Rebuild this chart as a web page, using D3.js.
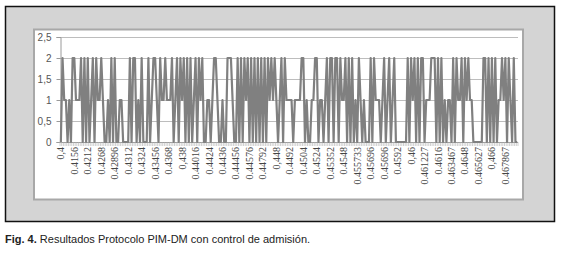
<!DOCTYPE html>
<html>
<head>
<meta charset="utf-8">
<script src="https://cdn.jsdelivr.net/npm/d3@7"></script>
<style>
  body { margin: 0; background: #fff; }
  svg { display: block; }
</style>
</head>
<body>
<div id="chart"></div>
<script>
// valores de la serie (8 categorias por cada etiqueta visible)
const values = [
  0, 2, 1, 1, 0, 1, 0, 2,   2, 1, 1, 1, 2, 0, 2, 0,
  2, 0, 1, 2, 0, 2, 1, 1,   2, 1, 0, 0, 1, 0, 2, 0,
  2, 0, 0, 1, 1, 0, 0, 0,   0, 2, 0, 2, 2, 0, 1, 0,
  2, 0, 0, 0, 2, 0, 1, 2,   2, 1, 0, 2, 1, 1, 2, 1,
  1, 1, 2, 0, 1, 2, 0, 2,   1, 2, 0, 2, 0, 2, 0, 1,
  2, 0, 2, 1, 2, 0, 0, 1,   1, 0, 1, 2, 2, 1, 0, 0,
  1, 0, 0, 2, 2, 2, 1, 0,   0, 2, 0, 2, 0, 2, 1, 2,
  0, 2, 0, 2, 0, 2, 0, 2,   0, 2, 0, 2, 1, 2, 1, 2,
  1, 0, 1, 2, 0, 2, 1, 1,   1, 1, 0, 1, 1, 1, 1, 2,
  2, 0, 1, 0, 0, 1, 1, 2,   2, 0, 1, 1, 0, 1, 2, 0,
  2, 2, 0, 2, 2, 0, 2, 1,   1, 2, 0, 2, 0, 2, 0, 1,
  0, 2, 1, 0, 1, 0, 0, 0,   2, 0, 2, 1, 1, 1, 0, 1,
  2, 0, 1, 2, 0, 1, 2, 0,   0, 0, 0, 0, 0, 0, 2, 0,
  2, 1, 2, 0, 2, 0, 2, 2,   0, 1, 1, 1, 2, 2, 2, 0,
  2, 0, 2, 0, 1, 0, 1, 1,   0, 2, 0, 2, 1, 1, 2, 0,
  2, 1, 2, 1, 1, 0, 0, 0,   0, 0, 0, 2, 2, 0, 2, 0,
  2, 0, 2, 0, 1, 1, 2, 1,   2, 0, 2, 1, 0, 2, 0, 0
];

// etiquetas visibles del eje x
const xLabels = [
  "0,4", "0.4156", "0.4212", "0.4268", "0.42896", "0.4312", "0.4324", "0.43456",
  "0.4368", "0,438", "0.44016", "0.4424", "0.4436", "0.44456", "0.44576", "0.44792",
  "0,448", "0.4492", "0.4504", "0.4524", "0.45352", "0.4548", "0.455733", "0.45696",
  "0.45696", "0.4592", "0,46", "0.461227", "0.4616", "0.463467", "0.4648", "0.465627",
  "0,466", "0.467867"
];
const labelEvery = 8;

const yTicks = [0, 0.5, 1, 1.5, 2, 2.5];

const caption = "Resultados Protocolo PIM-DM con control de admisión.";

const width = 565, height = 253;

const svg = d3.select("#chart")
  .append("svg")
  .attr("width", width)
  .attr("height", height);

// marco exterior gris
svg.append("rect")
  .attr("x", 5.5).attr("y", 6.5)
  .attr("width", 549).attr("height", 215)
  .attr("fill", "#d4d4d4")
  .attr("stroke", "#111")
  .attr("stroke-width", 1.5);

// area blanca del grafico
svg.append("rect")
  .attr("x", 34).attr("y", 29.5)
  .attr("width", 489).attr("height", 170)
  .attr("fill", "#fff")
  .attr("stroke", "#a8a8a8")
  .attr("stroke-width", 2);

const plotLeft = 60, plotRight = 518, plotTop = 37, plotBottom = 142;

const x = d3.scaleBand()
  .domain(d3.range(values.length))
  .range([plotLeft, plotRight]);

const y = d3.scaleLinear()
  .domain([0, 2.5])
  .range([plotBottom, plotTop]);

// lineas de la cuadricula
svg.append("g")
  .selectAll("line")
  .data(yTicks.filter(d => d > 0))
  .enter()
  .append("line")
  .attr("x1", plotLeft).attr("x2", plotRight)
  .attr("y1", d => Math.round(y(d)) + 0.5)
  .attr("y2", d => Math.round(y(d)) + 0.5)
  .attr("stroke", "#bdbdbd")
  .attr("stroke-width", 1);

// eje y
let axisY = d3.axisLeft(y)
  .tickValues(yTicks)
  .tickSize(4)
  .tickPadding(5)
  .tickFormat(d => String(d).replace(".", ","));

svg.append("g")
  .attr("transform", `translate(${plotLeft + 0.5},0)`)
  .call(axisY)
  .call(g => g.select(".domain").attr("stroke", "#9a9a9a"))
  .call(g => g.selectAll(".tick line").attr("stroke", "#9a9a9a"))
  .call(g => g.selectAll(".tick text")
    .attr("fill", "#555")
    .style("font-family", "'Liberation Sans', Arial, sans-serif")
    .style("font-size", "10px"));

// eje x: marcas entre categorias
const tickPos = d3.range(values.length + 1).map(i => plotLeft + i * x.step());
svg.append("line")
  .attr("x1", plotLeft).attr("x2", plotRight)
  .attr("y1", plotBottom + 0.5).attr("y2", plotBottom + 0.5)
  .attr("stroke", "#9a9a9a");

svg.append("g")
  .selectAll("line")
  .data(tickPos)
  .enter()
  .append("line")
  .attr("x1", d => d).attr("x2", d => d)
  .attr("y1", plotBottom).attr("y2", plotBottom + 4)
  .attr("stroke", "#b0b0b0")
  .attr("stroke-width", 0.6);

// etiquetas del eje x
svg.append("g")
  .selectAll("text")
  .data(xLabels)
  .enter()
  .append("text")
  .attr("transform", (d, i) => {
    const cx = x(i * labelEvery) + x.bandwidth() / 2;
    return `translate(${cx},${plotBottom + 5}) rotate(-90)`;
  })
  .attr("dy", "0.35em")
  .attr("text-anchor", "end")
  .attr("fill", "#444")
  .style("font-family", "'Liberation Serif', 'Times New Roman', serif")
  .style("font-size", "10px")
  .text(d => d);

// serie
const line = d3.line()
  .x((d, i) => x(i) + x.bandwidth() / 2)
  .y(d => y(d));

svg.append("path")
  .datum(values)
  .attr("d", line)
  .attr("fill", "none")
  .attr("stroke", "#808080")
  .attr("stroke-width", 2.2)
  .attr("stroke-linejoin", "round");

// pie de figura
const cap = svg.append("text")
  .attr("x", 5)
  .attr("y", 243)
  .style("font-family", "'Liberation Sans', Arial, sans-serif")
  .style("font-size", "11px")
  .attr("fill", "#222");
cap.append("tspan").attr("font-weight", "bold").text("Fig. 4.");
cap.append("tspan").text(" " + caption);
</script>
</body>
</html>
